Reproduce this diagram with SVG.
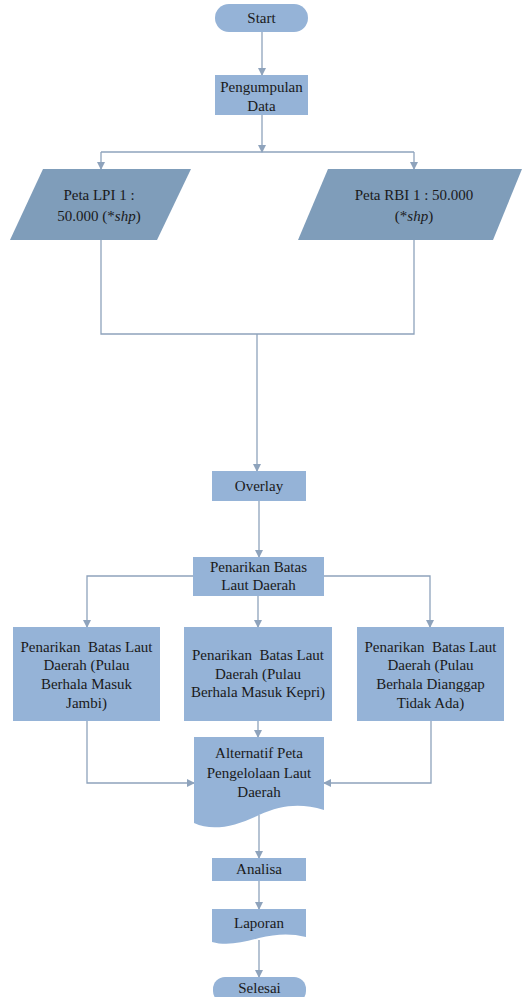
<svg xmlns="http://www.w3.org/2000/svg" width="528" height="997" viewBox="0 0 528 997">
<defs>
<style>
.n{fill:#95B3D7;stroke:none}
.p{fill:#7F9DBA;stroke:none}
.c{fill:none;stroke:#8EA3BC;stroke-width:1.3}
.a{marker-end:url(#ah)}
</style>
<marker id="ah" viewBox="0 0 8 8" refX="7" refY="4" markerWidth="8" markerHeight="8" markerUnits="userSpaceOnUse" orient="auto">
<path d="M0,0 L8,4 L0,8 Z" fill="#8EA3BC"/>
</marker>
</defs>
<rect width="528" height="997" fill="#ffffff"/>
<g id="connectors">
<path class="c a" d="M262,32 V75"/>
<path class="c a" d="M262,115 V152"/>
<path class="c" d="M101,152 H414"/>
<path class="c a" d="M101,152 V169"/>
<path class="c a" d="M414,152 V169"/>
<path class="c" d="M101,240 V334 H414 V240"/>
<path class="c a" d="M257,334 V471"/>
<path class="c a" d="M259,501 V557"/>
<path class="c a" d="M193,576 H87 V627"/>
<path class="c a" d="M324,576 H430 V627"/>
<path class="c a" d="M258,596 V627"/>
<path class="c a" d="M258,721 V737"/>
<path class="c a" d="M87,721 V783 H194"/>
<path class="c a" d="M431,721 V783 H324"/>
<path class="c a" d="M259,815 V858"/>
<path class="c a" d="M259,881 V909"/>
<path class="c a" d="M259,940 V977"/>
</g>
<g id="start">
<rect class="n" x="215" y="4" width="93" height="28" rx="14"/>
<text style="font-family:'Liberation Serif',serif;font-size:15px;fill:#1a1a1a;text-anchor:middle" x="261.5" y="23">Start</text>
</g>
<g id="pengumpulan">
<rect class="n" x="215" y="75" width="93" height="40"/>
<text style="font-family:'Liberation Serif',serif;font-size:15px;fill:#1a1a1a;text-anchor:middle" x="261.5" y="92">Pengumpulan</text>
<text style="font-family:'Liberation Serif',serif;font-size:15px;fill:#1a1a1a;text-anchor:middle" x="261.5" y="111">Data</text>
</g>
<g id="peta-lpi">
<polygon class="p" points="43,169 191,169 157,240 10,240"/>
<text style="font-family:'Liberation Serif',serif;font-size:15px;fill:#1a1a1a;text-anchor:middle" x="99" y="200">Peta LPI 1 :</text>
<text style="font-family:'Liberation Serif',serif;font-size:15px;fill:#1a1a1a;text-anchor:middle" x="99" y="221">50.000 (*<tspan style="font-style:italic">shp</tspan>)</text>
</g>
<g id="peta-rbi">
<polygon class="p" points="328,169 522,169 493,240 298,240"/>
<text style="font-family:'Liberation Serif',serif;font-size:15px;fill:#1a1a1a;text-anchor:middle" x="414" y="200">Peta RBI 1 : 50.000</text>
<text style="font-family:'Liberation Serif',serif;font-size:15px;fill:#1a1a1a;text-anchor:middle" x="414" y="221">(*<tspan style="font-style:italic">shp</tspan>)</text>
</g>
<g id="overlay">
<rect class="n" x="212" y="471" width="94" height="30"/>
<text style="font-family:'Liberation Serif',serif;font-size:15px;fill:#1a1a1a;text-anchor:middle" x="259" y="491">Overlay</text>
</g>
<g id="penarikan">
<rect class="n" x="193" y="557" width="131" height="39"/>
<text style="font-family:'Liberation Serif',serif;font-size:15px;fill:#1a1a1a;text-anchor:middle" x="258.5" y="572">Penarikan Batas</text>
<text style="font-family:'Liberation Serif',serif;font-size:15px;fill:#1a1a1a;text-anchor:middle" x="258.5" y="590">Laut Daerah</text>
</g>
<g id="jambi">
<rect class="n" x="13" y="627" width="147" height="94"/>
<text style="font-family:'Liberation Serif',serif;font-size:15px;fill:#1a1a1a;text-anchor:middle;white-space:pre" x="86.5" y="652">Penarikan  Batas Laut</text>
<text style="font-family:'Liberation Serif',serif;font-size:15px;fill:#1a1a1a;text-anchor:middle" x="86.5" y="670">Daerah (Pulau</text>
<text style="font-family:'Liberation Serif',serif;font-size:15px;fill:#1a1a1a;text-anchor:middle" x="86.5" y="689">Berhala Masuk</text>
<text style="font-family:'Liberation Serif',serif;font-size:15px;fill:#1a1a1a;text-anchor:middle" x="86.5" y="708">Jambi)</text>
</g>
<g id="kepri">
<rect class="n" x="184" y="627" width="148" height="94"/>
<text style="font-family:'Liberation Serif',serif;font-size:15px;fill:#1a1a1a;text-anchor:middle;white-space:pre" x="258" y="660">Penarikan  Batas Laut</text>
<text style="font-family:'Liberation Serif',serif;font-size:15px;fill:#1a1a1a;text-anchor:middle" x="258" y="679">Daerah (Pulau</text>
<text style="font-family:'Liberation Serif',serif;font-size:15px;fill:#1a1a1a;text-anchor:middle" x="258" y="697">Berhala Masuk Kepri)</text>
</g>
<g id="tidak-ada">
<rect class="n" x="357" y="627" width="147" height="94"/>
<text style="font-family:'Liberation Serif',serif;font-size:15px;fill:#1a1a1a;text-anchor:middle;white-space:pre" x="430.5" y="652">Penarikan  Batas Laut</text>
<text style="font-family:'Liberation Serif',serif;font-size:15px;fill:#1a1a1a;text-anchor:middle" x="430.5" y="670">Daerah (Pulau</text>
<text style="font-family:'Liberation Serif',serif;font-size:15px;fill:#1a1a1a;text-anchor:middle" x="430.5" y="689">Berhala Dianggap</text>
<text style="font-family:'Liberation Serif',serif;font-size:15px;fill:#1a1a1a;text-anchor:middle" x="430.5" y="708">Tidak Ada)</text>
</g>
<g id="alternatif">
<path class="n" d="M194,737 H324 V810 C300,803 282,805 259,815 C236,826 213,832 194,823 Z"/>
<text style="font-family:'Liberation Serif',serif;font-size:15px;fill:#1a1a1a;text-anchor:middle" x="259" y="758">Alternatif Peta</text>
<text style="font-family:'Liberation Serif',serif;font-size:15px;fill:#1a1a1a;text-anchor:middle" x="259" y="778">Pengelolaan Laut</text>
<text style="font-family:'Liberation Serif',serif;font-size:15px;fill:#1a1a1a;text-anchor:middle" x="259" y="797">Daerah</text>
</g>
<g id="analisa">
<rect class="n" x="212" y="858" width="94" height="23"/>
<text style="font-family:'Liberation Serif',serif;font-size:15px;fill:#1a1a1a;text-anchor:middle" x="259" y="874">Analisa</text>
</g>
<g id="laporan">
<path class="n" d="M212,909 H306 V937 C290,933 276,934 259,938 C242,943 226,946 212,942 Z"/>
<text style="font-family:'Liberation Serif',serif;font-size:15px;fill:#1a1a1a;text-anchor:middle" x="259" y="928">Laporan</text>
</g>
<g id="selesai">
<rect class="n" x="213" y="977" width="93" height="26" rx="12"/>
<text style="font-family:'Liberation Serif',serif;font-size:15px;fill:#1a1a1a;text-anchor:middle" x="259.5" y="993">Selesai</text>
</g>
</svg>
